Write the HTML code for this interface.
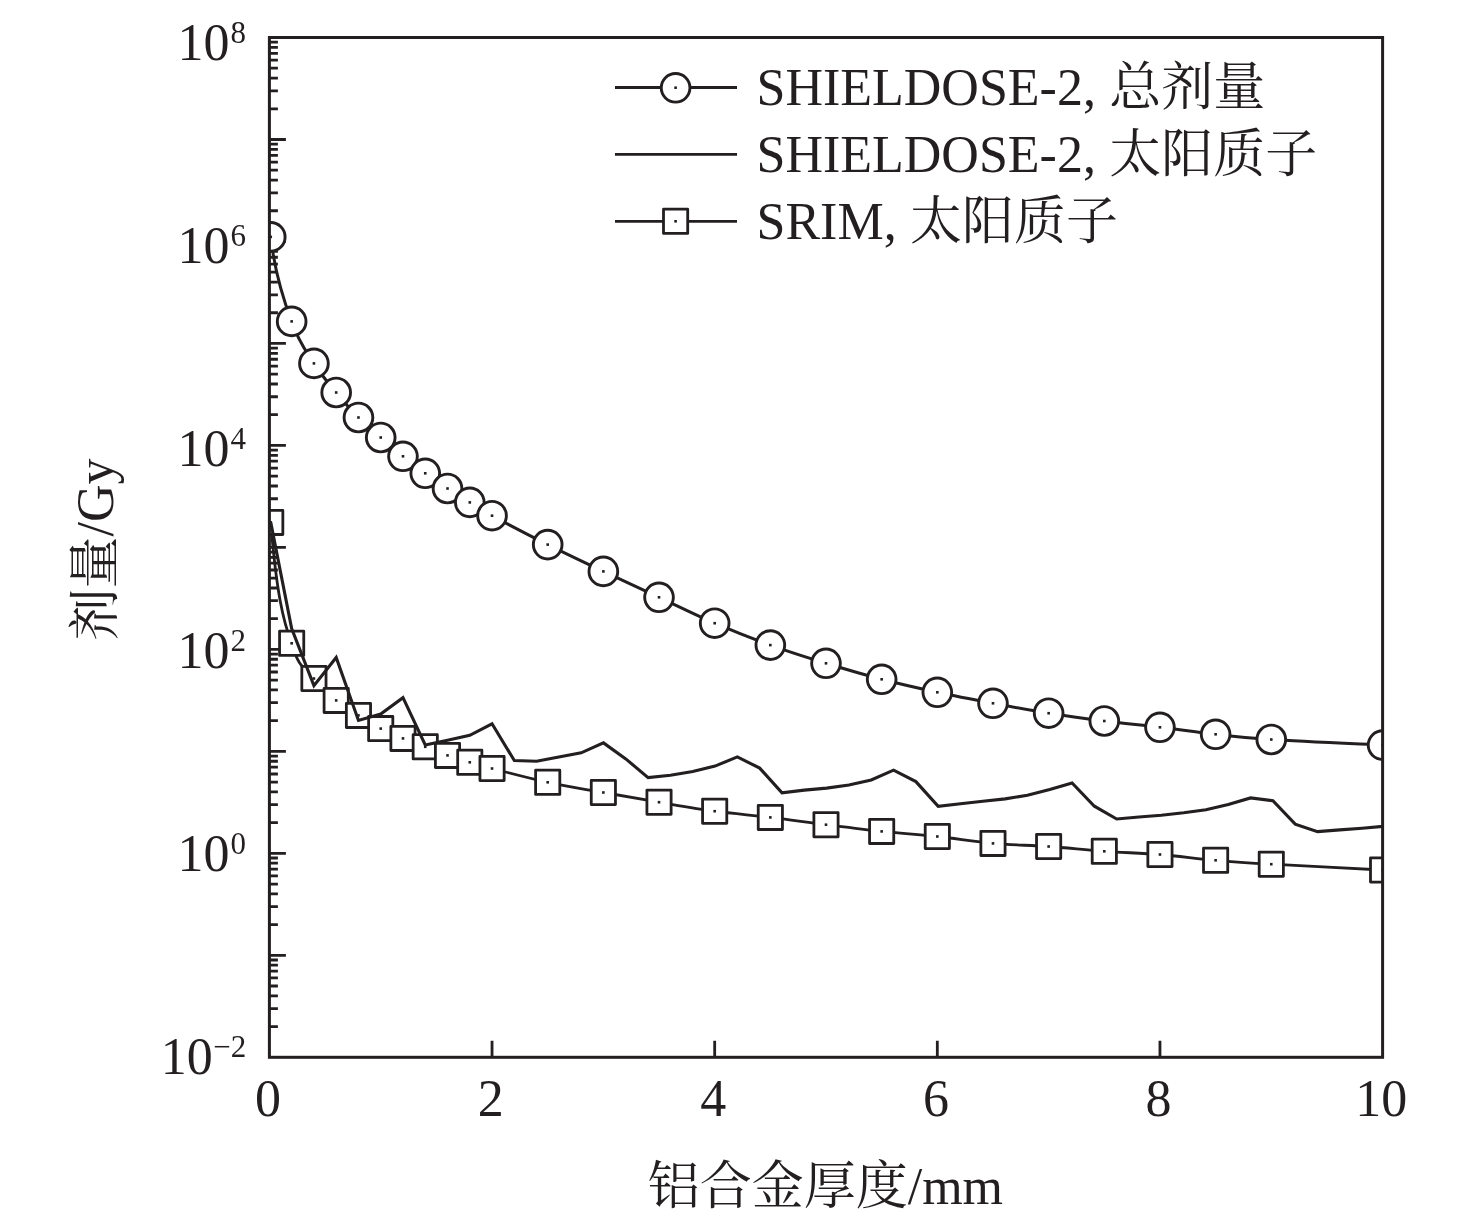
<!DOCTYPE html>
<html lang="zh"><head><meta charset="utf-8"><title>剂量 - 铝合金厚度</title>
<style>html,body{margin:0;padding:0;background:#fff}body{width:1476px;height:1221px;overflow:hidden}svg{display:block;will-change:transform}text{font-family:"Liberation Serif","Noto Serif CJK SC",serif;fill:#231f20}</style></head><body>
<svg width="1476" height="1221" viewBox="0 0 1476 1221">
<rect width="1476" height="1221" fill="#fff"/>
<defs>
<clipPath id="plot"><rect x="269.4" y="37.5" width="1113.2" height="1019.8"/></clipPath>
</defs>
<path d="M269.4 1026.6h8.5M269.4 1008.64h8.5M269.4 995.9h8.5M269.4 986.02h8.5M269.4 977.94h8.5M269.4 971.12h8.5M269.4 965.2h8.5M269.4 959.99h8.5M269.4 924.62h8.5M269.4 906.66h8.5M269.4 893.92h8.5M269.4 884.04h8.5M269.4 875.96h8.5M269.4 869.14h8.5M269.4 863.22h8.5M269.4 858.01h8.5M269.4 822.64h8.5M269.4 804.68h8.5M269.4 791.94h8.5M269.4 782.06h8.5M269.4 773.98h8.5M269.4 767.16h8.5M269.4 761.24h8.5M269.4 756.03h8.5M269.4 720.66h8.5M269.4 702.7h8.5M269.4 689.96h8.5M269.4 680.08h8.5M269.4 672h8.5M269.4 665.18h8.5M269.4 659.26h8.5M269.4 654.05h8.5M269.4 618.68h8.5M269.4 600.72h8.5M269.4 587.98h8.5M269.4 578.1h8.5M269.4 570.02h8.5M269.4 563.2h8.5M269.4 557.28h8.5M269.4 552.07h8.5M269.4 516.7h8.5M269.4 498.74h8.5M269.4 486h8.5M269.4 476.12h8.5M269.4 468.04h8.5M269.4 461.22h8.5M269.4 455.3h8.5M269.4 450.09h8.5M269.4 414.72h8.5M269.4 396.76h8.5M269.4 384.02h8.5M269.4 374.14h8.5M269.4 366.06h8.5M269.4 359.24h8.5M269.4 353.32h8.5M269.4 348.11h8.5M269.4 312.74h8.5M269.4 294.78h8.5M269.4 282.04h8.5M269.4 272.16h8.5M269.4 264.08h8.5M269.4 257.26h8.5M269.4 251.34h8.5M269.4 246.13h8.5M269.4 210.76h8.5M269.4 192.8h8.5M269.4 180.06h8.5M269.4 170.18h8.5M269.4 162.1h8.5M269.4 155.28h8.5M269.4 149.36h8.5M269.4 144.15h8.5M269.4 108.78h8.5M269.4 90.82h8.5M269.4 78.08h8.5M269.4 68.2h8.5M269.4 60.12h8.5M269.4 53.3h8.5M269.4 47.38h8.5M269.4 42.17h8.5" stroke="#231f20" stroke-width="2.8" fill="none"/>
<path d="M269.4 955.32h16.5M269.4 853.34h16.5M269.4 751.36h16.5M269.4 649.38h16.5M269.4 547.4h16.5M269.4 445.42h16.5M269.4 343.44h16.5M269.4 241.46h16.5M269.4 139.48h16.5" stroke="#231f20" stroke-width="2.8" fill="none"/>
<path d="M492.04 1057.3v-16.5M714.68 1057.3v-16.5M937.32 1057.3v-16.5M1159.96 1057.3v-16.5" stroke="#231f20" stroke-width="2.8" fill="none"/>
<g clip-path="url(#plot)" stroke="#231f20" fill="none" stroke-linejoin="miter">
<path d="M270.74 522.4C276.5 592 283 621 291.66 643.3C298.86 669.32 306.51 668.98 313.93 678.5C321.35 688.02 328.77 694.25 336.19 700.4C343.61 706.55 351.03 710.7 358.46 715.4C365.88 720.1 373.3 724.77 380.72 728.6C388.14 732.43 395.56 735.37 402.98 738.4C410.41 741.43 417.83 743.97 425.25 746.8C432.67 749.63 440.09 752.82 447.51 755.4C454.93 757.98 462.35 760.12 469.78 762.3C477.2 764.48 479.05 765.17 492.04 768.5C505.03 771.83 529.15 778.3 547.7 782.3C566.25 786.3 584.81 789.18 603.36 792.5C621.91 795.82 640.47 799.08 659.02 802.2C677.57 805.32 696.13 808.67 714.68 811.2C733.23 813.73 751.79 815.15 770.34 817.4C788.89 819.65 807.45 822.37 826 824.7C844.55 827.03 863.11 829.43 881.66 831.4C900.21 833.37 918.77 834.5 937.32 836.5C955.87 838.5 974.43 841.73 992.98 843.4C1011.53 845.07 1030.09 845.18 1048.64 846.5C1067.19 847.82 1085.75 849.97 1104.3 851.3C1122.85 852.63 1141.41 853 1159.96 854.5C1178.51 856 1197.07 858.68 1215.62 860.3C1234.17 861.92 1243.45 862.58 1271.28 864.2C1299.11 865.82 1364.05 869.03 1382.6 870" stroke-width="2.8"/>
<rect x="258.64" y="510.3" width="24.2" height="24.2" fill="#fff" stroke-width="2.8" stroke-linejoin="round"/>
<rect x="269.44" y="521.1" width="2.6" height="2.6" fill="#231f20" stroke="none"/>
<rect x="279.56" y="631.2" width="24.2" height="24.2" fill="#fff" stroke-width="2.8" stroke-linejoin="round"/>
<rect x="290.36" y="642" width="2.6" height="2.6" fill="#231f20" stroke="none"/>
<rect x="301.83" y="666.4" width="24.2" height="24.2" fill="#fff" stroke-width="2.8" stroke-linejoin="round"/>
<rect x="312.63" y="677.2" width="2.6" height="2.6" fill="#231f20" stroke="none"/>
<rect x="324.09" y="688.3" width="24.2" height="24.2" fill="#fff" stroke-width="2.8" stroke-linejoin="round"/>
<rect x="334.89" y="699.1" width="2.6" height="2.6" fill="#231f20" stroke="none"/>
<rect x="346.36" y="703.3" width="24.2" height="24.2" fill="#fff" stroke-width="2.8" stroke-linejoin="round"/>
<rect x="357.16" y="714.1" width="2.6" height="2.6" fill="#231f20" stroke="none"/>
<rect x="368.62" y="716.5" width="24.2" height="24.2" fill="#fff" stroke-width="2.8" stroke-linejoin="round"/>
<rect x="379.42" y="727.3" width="2.6" height="2.6" fill="#231f20" stroke="none"/>
<rect x="390.88" y="726.3" width="24.2" height="24.2" fill="#fff" stroke-width="2.8" stroke-linejoin="round"/>
<rect x="401.68" y="737.1" width="2.6" height="2.6" fill="#231f20" stroke="none"/>
<rect x="413.15" y="734.7" width="24.2" height="24.2" fill="#fff" stroke-width="2.8" stroke-linejoin="round"/>
<rect x="423.95" y="745.5" width="2.6" height="2.6" fill="#231f20" stroke="none"/>
<rect x="435.41" y="743.3" width="24.2" height="24.2" fill="#fff" stroke-width="2.8" stroke-linejoin="round"/>
<rect x="446.21" y="754.1" width="2.6" height="2.6" fill="#231f20" stroke="none"/>
<rect x="457.68" y="750.2" width="24.2" height="24.2" fill="#fff" stroke-width="2.8" stroke-linejoin="round"/>
<rect x="468.48" y="761" width="2.6" height="2.6" fill="#231f20" stroke="none"/>
<rect x="479.94" y="756.4" width="24.2" height="24.2" fill="#fff" stroke-width="2.8" stroke-linejoin="round"/>
<rect x="490.74" y="767.2" width="2.6" height="2.6" fill="#231f20" stroke="none"/>
<rect x="535.6" y="770.2" width="24.2" height="24.2" fill="#fff" stroke-width="2.8" stroke-linejoin="round"/>
<rect x="546.4" y="781" width="2.6" height="2.6" fill="#231f20" stroke="none"/>
<rect x="591.26" y="780.4" width="24.2" height="24.2" fill="#fff" stroke-width="2.8" stroke-linejoin="round"/>
<rect x="602.06" y="791.2" width="2.6" height="2.6" fill="#231f20" stroke="none"/>
<rect x="646.92" y="790.1" width="24.2" height="24.2" fill="#fff" stroke-width="2.8" stroke-linejoin="round"/>
<rect x="657.72" y="800.9" width="2.6" height="2.6" fill="#231f20" stroke="none"/>
<rect x="702.58" y="799.1" width="24.2" height="24.2" fill="#fff" stroke-width="2.8" stroke-linejoin="round"/>
<rect x="713.38" y="809.9" width="2.6" height="2.6" fill="#231f20" stroke="none"/>
<rect x="758.24" y="805.3" width="24.2" height="24.2" fill="#fff" stroke-width="2.8" stroke-linejoin="round"/>
<rect x="769.04" y="816.1" width="2.6" height="2.6" fill="#231f20" stroke="none"/>
<rect x="813.9" y="812.6" width="24.2" height="24.2" fill="#fff" stroke-width="2.8" stroke-linejoin="round"/>
<rect x="824.7" y="823.4" width="2.6" height="2.6" fill="#231f20" stroke="none"/>
<rect x="869.56" y="819.3" width="24.2" height="24.2" fill="#fff" stroke-width="2.8" stroke-linejoin="round"/>
<rect x="880.36" y="830.1" width="2.6" height="2.6" fill="#231f20" stroke="none"/>
<rect x="925.22" y="824.4" width="24.2" height="24.2" fill="#fff" stroke-width="2.8" stroke-linejoin="round"/>
<rect x="936.02" y="835.2" width="2.6" height="2.6" fill="#231f20" stroke="none"/>
<rect x="980.88" y="831.3" width="24.2" height="24.2" fill="#fff" stroke-width="2.8" stroke-linejoin="round"/>
<rect x="991.68" y="842.1" width="2.6" height="2.6" fill="#231f20" stroke="none"/>
<rect x="1036.54" y="834.4" width="24.2" height="24.2" fill="#fff" stroke-width="2.8" stroke-linejoin="round"/>
<rect x="1047.34" y="845.2" width="2.6" height="2.6" fill="#231f20" stroke="none"/>
<rect x="1092.2" y="839.2" width="24.2" height="24.2" fill="#fff" stroke-width="2.8" stroke-linejoin="round"/>
<rect x="1103" y="850" width="2.6" height="2.6" fill="#231f20" stroke="none"/>
<rect x="1147.86" y="842.4" width="24.2" height="24.2" fill="#fff" stroke-width="2.8" stroke-linejoin="round"/>
<rect x="1158.66" y="853.2" width="2.6" height="2.6" fill="#231f20" stroke="none"/>
<rect x="1203.52" y="848.2" width="24.2" height="24.2" fill="#fff" stroke-width="2.8" stroke-linejoin="round"/>
<rect x="1214.32" y="859" width="2.6" height="2.6" fill="#231f20" stroke="none"/>
<rect x="1259.18" y="852.1" width="24.2" height="24.2" fill="#fff" stroke-width="2.8" stroke-linejoin="round"/>
<rect x="1269.98" y="862.9" width="2.6" height="2.6" fill="#231f20" stroke="none"/>
<rect x="1370.5" y="857.9" width="24.2" height="24.2" fill="#fff" stroke-width="2.8" stroke-linejoin="round"/>
<rect x="1381.3" y="868.7" width="2.6" height="2.6" fill="#231f20" stroke="none"/>
<path d="M270.74 522.4L291.66 628.5L313.93 685.6L336.19 657.5L358.46 720.4L380.72 714L402.98 697.7L425.25 744.9L447.51 740.3L469.78 735.3L492.04 723.8L514.3 760.5L536.57 761.3L558.86 756.9L581.17 752.8L603.48 742.9L625.8 758.9L648.11 777.6L670.43 775.2L692.74 771.5L715.05 766.1L737.37 756.9L759.68 768.1L782 792.8L804.31 790.1L826.62 788.1L848.94 785L871.25 780L893.57 770.2L915.88 781.6L938.19 806.4L960.51 803.7L982.82 801.3L1005.14 798.9L1027.45 795.2L1049.76 789.6L1072.08 783L1094.39 806.2L1116.71 819L1139.02 817L1161.33 815.3L1183.65 812.8L1205.96 809.8L1228.28 804.6L1250.59 797.9L1272.9 800.7L1295.22 824.1L1317.53 831.6L1339.85 829.9L1362.16 828.2L1384.47 826.3" stroke-width="3.1"/>
<path d="M270.74 236.9C274.2 268 283.5 300 291.66 321.4C298.86 342.48 306.51 351.55 313.93 363.4C321.35 375.25 328.77 383.48 336.19 392.5C343.61 401.52 351.03 410 358.46 417.5C365.88 425 373.3 431.03 380.72 437.5C388.14 443.97 395.56 450.33 402.98 456.3C410.41 462.27 417.83 467.93 425.25 473.3C432.67 478.67 440.09 483.65 447.51 488.5C454.93 493.35 462.35 497.87 469.78 502.4C477.2 506.93 479.05 508.67 492.04 515.7C505.03 522.73 529.15 535.32 547.7 544.6C566.25 553.88 584.81 562.62 603.36 571.4C621.91 580.18 640.47 588.67 659.02 597.3C677.57 605.93 696.13 615.23 714.68 623.2C733.23 631.17 751.79 638.42 770.34 645.1C788.89 651.78 807.45 657.6 826 663.3C844.55 669 863.11 674.47 881.66 679.3C900.21 684.13 918.77 688.3 937.32 692.3C955.87 696.3 974.43 699.82 992.98 703.3C1011.53 706.78 1030.09 710.25 1048.64 713.2C1067.19 716.15 1085.75 718.65 1104.3 721C1122.85 723.35 1141.41 725.08 1159.96 727.3C1178.51 729.52 1197.07 732.27 1215.62 734.3C1234.17 736.33 1243.45 737.7 1271.28 739.5C1299.11 741.3 1364.05 744.17 1382.6 745.1" stroke-width="3"/>
<circle cx="270.74" cy="236.9" r="14.35" fill="#fff" stroke-width="2.9"/>
<rect x="269.44" y="235.6" width="2.6" height="2.6" fill="#231f20" stroke="none"/>
<circle cx="291.66" cy="321.4" r="14.35" fill="#fff" stroke-width="2.9"/>
<rect x="290.36" y="320.1" width="2.6" height="2.6" fill="#231f20" stroke="none"/>
<circle cx="313.93" cy="363.4" r="14.35" fill="#fff" stroke-width="2.9"/>
<rect x="312.63" y="362.1" width="2.6" height="2.6" fill="#231f20" stroke="none"/>
<circle cx="336.19" cy="392.5" r="14.35" fill="#fff" stroke-width="2.9"/>
<rect x="334.89" y="391.2" width="2.6" height="2.6" fill="#231f20" stroke="none"/>
<circle cx="358.46" cy="417.5" r="14.35" fill="#fff" stroke-width="2.9"/>
<rect x="357.16" y="416.2" width="2.6" height="2.6" fill="#231f20" stroke="none"/>
<circle cx="380.72" cy="437.5" r="14.35" fill="#fff" stroke-width="2.9"/>
<rect x="379.42" y="436.2" width="2.6" height="2.6" fill="#231f20" stroke="none"/>
<circle cx="402.98" cy="456.3" r="14.35" fill="#fff" stroke-width="2.9"/>
<rect x="401.68" y="455" width="2.6" height="2.6" fill="#231f20" stroke="none"/>
<circle cx="425.25" cy="473.3" r="14.35" fill="#fff" stroke-width="2.9"/>
<rect x="423.95" y="472" width="2.6" height="2.6" fill="#231f20" stroke="none"/>
<circle cx="447.51" cy="488.5" r="14.35" fill="#fff" stroke-width="2.9"/>
<rect x="446.21" y="487.2" width="2.6" height="2.6" fill="#231f20" stroke="none"/>
<circle cx="469.78" cy="502.4" r="14.35" fill="#fff" stroke-width="2.9"/>
<rect x="468.48" y="501.1" width="2.6" height="2.6" fill="#231f20" stroke="none"/>
<circle cx="492.04" cy="515.7" r="14.35" fill="#fff" stroke-width="2.9"/>
<rect x="490.74" y="514.4" width="2.6" height="2.6" fill="#231f20" stroke="none"/>
<circle cx="547.7" cy="544.6" r="14.35" fill="#fff" stroke-width="2.9"/>
<rect x="546.4" y="543.3" width="2.6" height="2.6" fill="#231f20" stroke="none"/>
<circle cx="603.36" cy="571.4" r="14.35" fill="#fff" stroke-width="2.9"/>
<rect x="602.06" y="570.1" width="2.6" height="2.6" fill="#231f20" stroke="none"/>
<circle cx="659.02" cy="597.3" r="14.35" fill="#fff" stroke-width="2.9"/>
<rect x="657.72" y="596" width="2.6" height="2.6" fill="#231f20" stroke="none"/>
<circle cx="714.68" cy="623.2" r="14.35" fill="#fff" stroke-width="2.9"/>
<rect x="713.38" y="621.9" width="2.6" height="2.6" fill="#231f20" stroke="none"/>
<circle cx="770.34" cy="645.1" r="14.35" fill="#fff" stroke-width="2.9"/>
<rect x="769.04" y="643.8" width="2.6" height="2.6" fill="#231f20" stroke="none"/>
<circle cx="826" cy="663.3" r="14.35" fill="#fff" stroke-width="2.9"/>
<rect x="824.7" y="662" width="2.6" height="2.6" fill="#231f20" stroke="none"/>
<circle cx="881.66" cy="679.3" r="14.35" fill="#fff" stroke-width="2.9"/>
<rect x="880.36" y="678" width="2.6" height="2.6" fill="#231f20" stroke="none"/>
<circle cx="937.32" cy="692.3" r="14.35" fill="#fff" stroke-width="2.9"/>
<rect x="936.02" y="691" width="2.6" height="2.6" fill="#231f20" stroke="none"/>
<circle cx="992.98" cy="703.3" r="14.35" fill="#fff" stroke-width="2.9"/>
<rect x="991.68" y="702" width="2.6" height="2.6" fill="#231f20" stroke="none"/>
<circle cx="1048.64" cy="713.2" r="14.35" fill="#fff" stroke-width="2.9"/>
<rect x="1047.34" y="711.9" width="2.6" height="2.6" fill="#231f20" stroke="none"/>
<circle cx="1104.3" cy="721" r="14.35" fill="#fff" stroke-width="2.9"/>
<rect x="1103" y="719.7" width="2.6" height="2.6" fill="#231f20" stroke="none"/>
<circle cx="1159.96" cy="727.3" r="14.35" fill="#fff" stroke-width="2.9"/>
<rect x="1158.66" y="726" width="2.6" height="2.6" fill="#231f20" stroke="none"/>
<circle cx="1215.62" cy="734.3" r="14.35" fill="#fff" stroke-width="2.9"/>
<rect x="1214.32" y="733" width="2.6" height="2.6" fill="#231f20" stroke="none"/>
<circle cx="1271.28" cy="739.5" r="14.35" fill="#fff" stroke-width="2.9"/>
<rect x="1269.98" y="738.2" width="2.6" height="2.6" fill="#231f20" stroke="none"/>
<circle cx="1382.6" cy="745.1" r="14.35" fill="#fff" stroke-width="2.9"/>
<rect x="1381.3" y="743.8" width="2.6" height="2.6" fill="#231f20" stroke="none"/>
</g>
<rect x="269.4" y="37.5" width="1113.2" height="1019.8" fill="none" stroke="#231f20" stroke-width="3"/>
<text x="229.5" y="60" font-size="52" text-anchor="end">10</text>
<text x="230.5" y="43" font-size="31">8</text>
<text x="229.5" y="262.75" font-size="52" text-anchor="end">10</text>
<text x="230.5" y="245.75" font-size="31">6</text>
<text x="229.5" y="465.5" font-size="52" text-anchor="end">10</text>
<text x="230.5" y="448.5" font-size="31">4</text>
<text x="229.5" y="668.25" font-size="52" text-anchor="end">10</text>
<text x="230.5" y="651.25" font-size="31">2</text>
<text x="229.5" y="871" font-size="52" text-anchor="end">10</text>
<text x="230.5" y="854" font-size="31">0</text>
<text x="212.7" y="1073.75" font-size="52" text-anchor="end">10</text>
<text x="213.2" y="1056.75" font-size="31">−2</text>
<text x="268" y="1115.8" font-size="52" text-anchor="middle">0</text>
<text x="490.64" y="1115.8" font-size="52" text-anchor="middle">2</text>
<text x="713.28" y="1115.8" font-size="52" text-anchor="middle">4</text>
<text x="935.92" y="1115.8" font-size="52" text-anchor="middle">6</text>
<text x="1158.56" y="1115.8" font-size="52" text-anchor="middle">8</text>
<text x="1381.2" y="1115.8" font-size="52" text-anchor="middle">10</text>
<text x="647.7" y="1203.7" font-size="52">铝合金厚度</text>
<text x="907.7" y="1203.7" font-size="52">/mm</text>
<g transform="translate(112.7 640.5) rotate(-90)">
<text x="0" y="0" font-size="52">剂量</text>
<text x="104" y="0" font-size="52">/Gy</text>
</g>
<path d="M615 87.5H737" stroke="#231f20" stroke-width="2.8" fill="none"/>
<path d="M615 154.4H737" stroke="#231f20" stroke-width="2.8" fill="none"/>
<path d="M615 221.3H737" stroke="#231f20" stroke-width="2.8" fill="none"/>
<circle cx="675.6" cy="87.8" r="14.35" fill="#fff" stroke="#231f20" stroke-width="2.9"/>
<rect x="674.3" y="86.4" width="2.6" height="2.6" fill="#231f20"/>
<rect x="663.5" y="209.2" width="24.2" height="24.2" fill="#fff" stroke="#231f20" stroke-width="2.8" stroke-linejoin="round"/>
<rect x="674.3" y="220" width="2.6" height="2.6" fill="#231f20"/>
<text x="756.5" y="105" font-size="52">SHIELDOSE-2,</text>
<text x="1109.2" y="105" font-size="52">总剂量</text>
<text x="756.5" y="172" font-size="52">SHIELDOSE-2,</text>
<text x="1109.2" y="172" font-size="52">太阳质子</text>
<text x="756.5" y="239" font-size="52">SRIM,</text>
<text x="910" y="239" font-size="52">太阳质子</text>
</svg></body></html>
